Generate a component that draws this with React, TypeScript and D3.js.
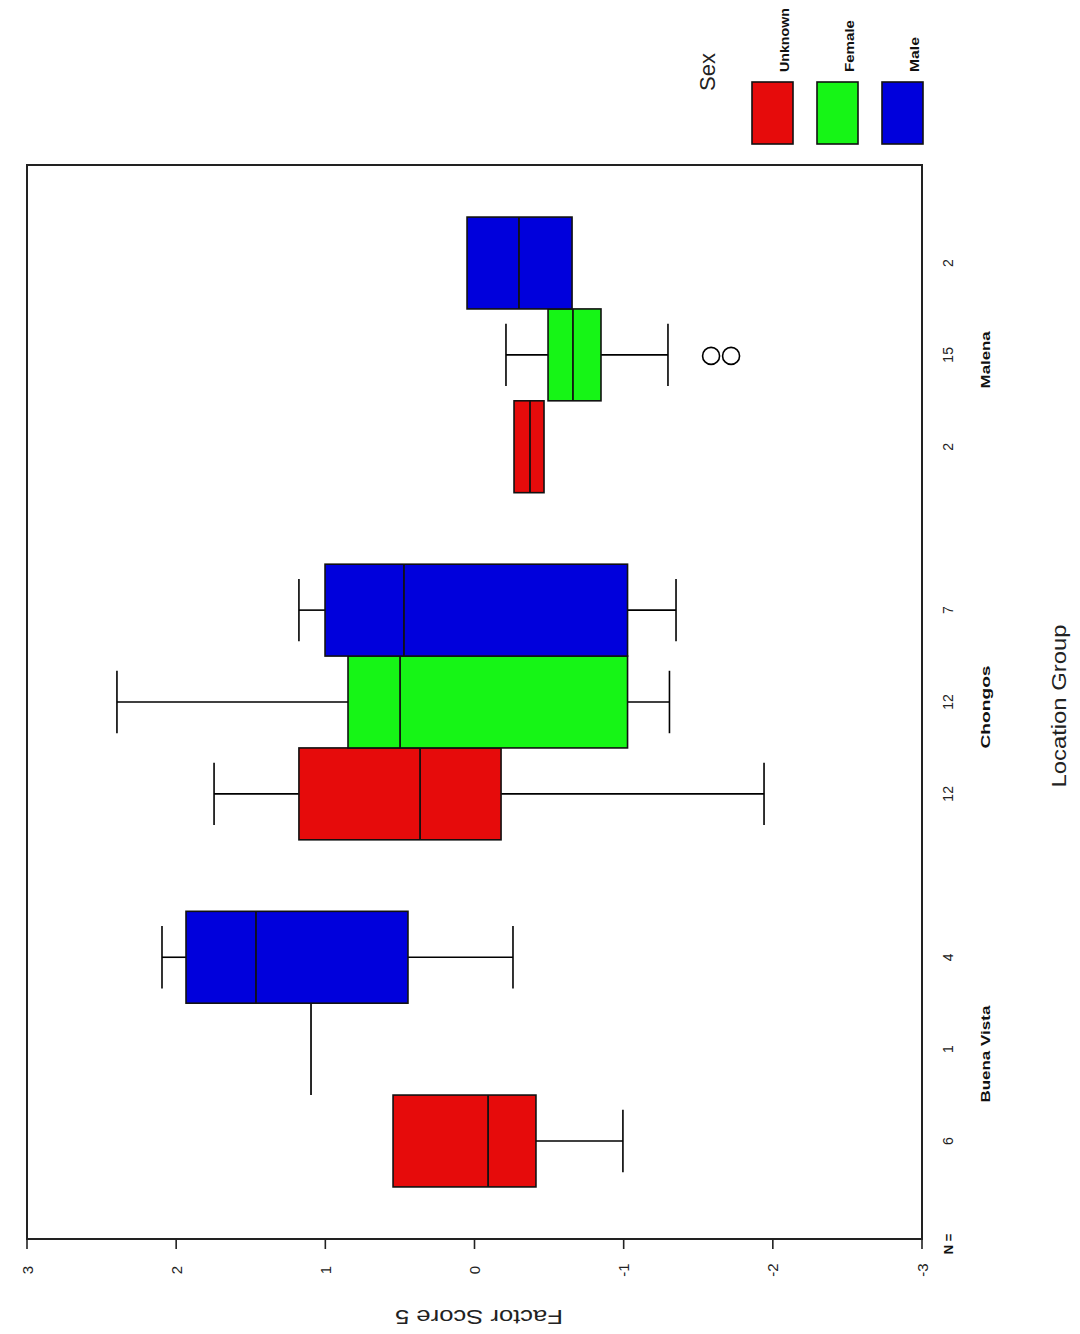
import React from "react";
import * as d3 from "d3";

const groups = ["Buena Vista", "Chongos", "Malena"];
const sexes = ["Unknown", "Female", "Male"];
const sexColors = ["#e60b0b", "#16f516", "#0000dc"];
const counts = [
  [6, 1, 4],
  [12, 12, 7],
  [2, 15, 2],
];
const whiskerMin = [
  [-0.995, 1.096, -0.258],
  [-1.941, -1.307, -1.351],
  [-0.466, -1.297, -0.654],
];
const q1s = [
  [-0.412, 1.096, 0.446],
  [-0.178, -1.026, -1.026],
  [-0.466, -0.848, -0.654],
];
const medians = [
  [-0.091, 1.096, 1.465],
  [0.365, 0.499, 0.473],
  [-0.372, -0.66, -0.298],
];
const q3s = [
  [0.546, 1.096, 1.934],
  [1.177, 0.848, 1.002],
  [-0.265, -0.493, 0.05],
];
const whiskerMax = [
  [0.546, 1.096, 2.095],
  [1.746, 2.397, 1.177],
  [-0.265, -0.211, 0.05],
];
const outliers = [
  [[], [], []],
  [[], [], []],
  [[], [-1.586, -1.72], []],
];
const valueTicks = [3, 2, 1, 0, -1, -2, -3];

const FONT = "'Liberation Sans', Arial, sans-serif";

export default function App() {
  const left = 27,
    right = 922,
    top = 165,
    bottom = 1239;
  const x = d3.scaleLinear().domain([3, -3]).range([left, right]);
  const yGroup = d3
    .scaleBand<string>()
    .domain(groups)
    .range([bottom, top])
    .paddingInner(0.206)
    .paddingOuter(0.15);
  const ySex = d3
    .scaleBand<string>()
    .domain(sexes)
    .range([yGroup.bandwidth(), 0]);
  const bw = ySex.bandwidth();
  const capW = bw * 0.68;

  const boxes: React.ReactNode[] = [];
  const nLabels: React.ReactNode[] = [];
  groups.forEach((g, gi) => {
    sexes.forEach((s, si) => {
      const y0 = (yGroup(g) as number) + (ySex(s) as number);
      const yc = y0 + bw / 2;
      const xq3 = x(q3s[gi][si]);
      const xq1 = x(q1s[gi][si]);
      const xmed = x(medians[gi][si]);
      const xmax = x(whiskerMax[gi][si]);
      const xmin = x(whiskerMin[gi][si]);
      const key = `${gi}-${si}`;
      const els: React.ReactNode[] = [];
      if (whiskerMax[gi][si] > q3s[gi][si]) {
        els.push(
          <line key="wu" x1={xmax} x2={xq3} y1={yc} y2={yc} stroke="#000" strokeWidth={1.6} />,
          <line key="cu" x1={xmax} x2={xmax} y1={yc - capW / 2} y2={yc + capW / 2} stroke="#000" strokeWidth={1.6} />
        );
      }
      if (whiskerMin[gi][si] < q1s[gi][si]) {
        els.push(
          <line key="wl" x1={xq1} x2={xmin} y1={yc} y2={yc} stroke="#000" strokeWidth={1.6} />,
          <line key="cl" x1={xmin} x2={xmin} y1={yc - capW / 2} y2={yc + capW / 2} stroke="#000" strokeWidth={1.6} />
        );
      }
      els.push(
        <rect
          key="box"
          x={xq3}
          y={y0}
          width={Math.max(0, xq1 - xq3)}
          height={bw}
          fill={sexColors[si]}
          stroke="#111"
          strokeWidth={1.6}
        />,
        <line key="med" x1={xmed} x2={xmed} y1={y0} y2={y0 + bw} stroke="#111" strokeWidth={1.8} />
      );
      outliers[gi][si].forEach((v, oi) => {
        els.push(
          <circle key={"o" + oi} cx={x(v)} cy={yc + 1} r={8.5} fill="none" stroke="#000" strokeWidth={1.6} />
        );
      });
      boxes.push(<g key={key}>{els}</g>);
      nLabels.push(
        <text
          key={"n" + key}
          transform={`translate(953,${yc}) rotate(-90)`}
          textAnchor="middle"
          fontSize={14}
          fontFamily={FONT}
          fill="#222"
        >
          {counts[gi][si]}
        </text>
      );
    });
  });

  const groupLabelLen = [97, 83, 57];
  const legendLabelLen = [64, 52, 35];
  const legendX = [752, 817, 882];

  return (
    <svg
      width={1080}
      height={1334}
      style={{ position: "absolute", left: 0, top: 0, background: "#fff" }}
    >
      <rect x={0} y={0} width={1080} height={1334} fill="#fff" />
      {/* legend */}
      <text
        transform="translate(715,72) rotate(-90)"
        textAnchor="middle"
        fontSize={22}
        fontFamily={FONT}
        fill="#222"
      >
        Sex
      </text>
      {sexes.map((s, i) => (
        <g key={s}>
          <rect x={legendX[i]} y={82} width={41} height={62} fill={sexColors[i]} stroke="#111" strokeWidth={1.6} />
          <text
            transform={`translate(${legendX[i] + 37},72) rotate(-90)`}
            textAnchor="start"
            fontSize={13}
            fontWeight="bold"
            fontFamily={FONT}
            textLength={legendLabelLen[i]}
            lengthAdjust="spacingAndGlyphs"
            fill="#111"
          >
            {s}
          </text>
        </g>
      ))}
      {/* boxes */}
      {boxes}
      {/* frame */}
      <rect x={left} y={top} width={right - left} height={bottom - top} fill="none" stroke="#222" strokeWidth={2} />
      {/* value axis ticks */}
      {valueTicks.map((t) => (
        <g key={t}>
          <line x1={x(t)} x2={x(t)} y1={bottom} y2={bottom + 10} stroke="#222" strokeWidth={1.6} />
          <text
            transform={`translate(${x(t)},1270) rotate(-90)`}
            textAnchor="middle"
            dominantBaseline="central"
            fontSize={15}
            fontFamily={FONT}
            fill="#222"
          >
            {t}
          </text>
        </g>
      ))}
      <text
        transform="translate(479,1317) rotate(180)"
        textAnchor="middle"
        dominantBaseline="central"
        fontSize={20}
        fontFamily={FONT}
        textLength={168}
        lengthAdjust="spacingAndGlyphs"
        fill="#222"
      >
        Factor Score 5
      </text>
      {/* N labels */}
      <text
        transform="translate(953,1244) rotate(-90)"
        textAnchor="middle"
        fontSize={13}
        fontWeight="bold"
        fontFamily={FONT}
        fill="#111"
      >
        N =
      </text>
      {nLabels}
      {/* group labels */}
      {groups.map((g, gi) => (
        <text
          key={g}
          transform={`translate(990,${(yGroup(g) as number) + yGroup.bandwidth() / 2 + 5}) rotate(-90)`}
          textAnchor="middle"
          fontSize={13}
          fontWeight="bold"
          fontFamily={FONT}
          textLength={groupLabelLen[gi]}
          lengthAdjust="spacingAndGlyphs"
          fill="#111"
        >
          {g}
        </text>
      ))}
      <text
        transform="translate(1059,706) rotate(-90)"
        textAnchor="middle"
        dominantBaseline="central"
        fontSize={20}
        fontFamily={FONT}
        textLength={163}
        lengthAdjust="spacingAndGlyphs"
        fill="#222"
      >
        Location Group
      </text>
    </svg>
  );
}
